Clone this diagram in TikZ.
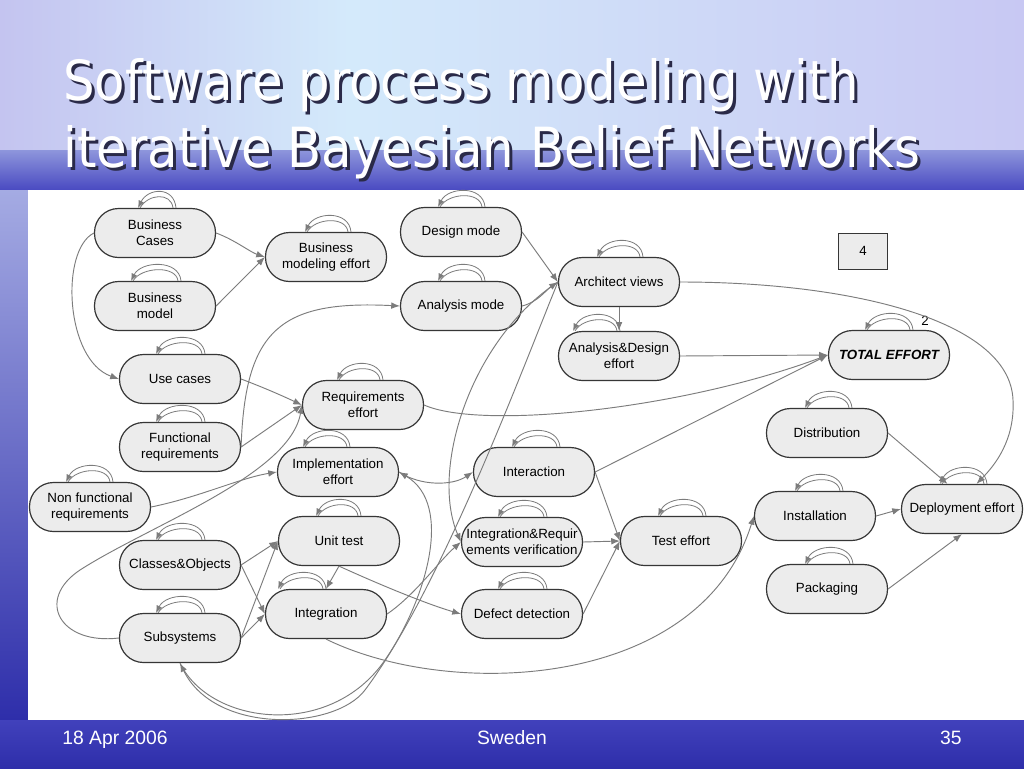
\documentclass[tikz,border=0pt]{standalone}
\usepackage{fontspec}
\setmainfont{Liberation Sans}
\newfontfamily\titlefont[FakeStretch=0.9]{DejaVu Sans}
\usepackage{tikz}
\usetikzlibrary{arrows.meta,calc,positioning}
\definecolor{nodefill}{HTML}{ECECEC}
\definecolor{nodeline}{HTML}{363636}
\definecolor{linkgray}{HTML}{7C7C7C}
\definecolor{skyleft}{HTML}{C4C4F0}
\definecolor{skymid}{HTML}{D4EAFB}
\definecolor{skyright}{HTML}{C8C8F3}
\definecolor{seatop}{HTML}{8E96DC}
\definecolor{seadeep}{HTML}{4646C0}
\definecolor{seadark}{HTML}{2E2EAA}
\definecolor{shadowink}{HTML}{2A2A48}
\newcommand{\selfloop}[3]{%
  \draw[selfarc] ($(#1.north)+(#3-3,0)$) .. controls +(-2,-16) and +(8,-14) .. ($(#1.north)+(#2+2,0)$);
  \draw[selfarc,-{Latex[length=5.5pt,width=4.5pt]}] ($(#1.north)+(#3,0)$) .. controls +(-2,-22) and +(10,-20) .. ($(#1.north)+(#2,0)$);
}

\begin{document}
\begin{tikzpicture}[x=0.75pt,y=-0.75pt,
    netnode/.style={draw=nodeline,fill=nodefill,line width=0.9pt,rounded corners=18pt,
      minimum width=90.75pt,minimum height=36.75pt,inner sep=0pt,align=center,
      font=\fontsize{10}{12}\selectfont},
    link/.style={draw=linkgray,line width=0.7pt,-{Latex[length=6.5pt,width=5pt]}},
    selfarc/.style={draw=linkgray,line width=0.6pt},
    titletext/.style={anchor=base west,inner sep=0pt,font=\titlefont\fontsize{41.5}{50}\selectfont},
    foottext/.style={text=white,inner sep=0pt,font=\fontsize{14.5}{17}\selectfont}]
        \useasboundingbox (0,0) rectangle (1024,768);

        % slide background
        \fill[left color=skyleft,right color=skymid] (0,0) rectangle (350,152);
        \fill[left color=skymid,right color=skyright] (350,0) rectangle (1024,152);
        \fill[top color=seatop,bottom color=seadeep] (0,150) rectangle (1024,192);
        \fill[top color=seatop!80!white,bottom color=seadark] (0,190) rectangle (1024,720);
        \fill[top color=seadeep!80!seadark,bottom color=seadark] (0,720) rectangle (1024,768);
        \fill[white] (28,190) rectangle (1024,720);

        \node[titletext,text=shadowink] at (66,103) {Software process modeling with};
        \node[titletext,text=white] (title1) at (63,100) {Software process modeling with};
        \node[titletext,text=shadowink] at (66,170) {iterative Bayesian Belief Networks};
        \node[titletext,text=white] (title2) at (63,167) {iterative Bayesian Belief Networks};

        \node[foottext,anchor=base west] (date) at (62,744) {18 Apr 2006};
        \node[foottext,anchor=base] (place) at (512,744) {Sweden};
        \node[foottext,anchor=base east] (page) at (962,744) {35};

        % network
        \node[netnode] (bcase) at (155,233) {Business\\Cases};
        \node[netnode] (bmodel) at (155,306) {Business\\model};
        \node[netnode] (bmeff) at (326,257) {Business\\modeling effort};
        \node[netnode] (design) at (461,232) {Design mode};
        \node[netnode] (anamode) at (461,306) {Analysis mode};
        \node[netnode] (arch) at (619,282) {Architect views};
        \node[netnode] (adeff) at (619,356) {Analysis\&Design\\effort};
        \node[draw=nodeline,fill=nodefill,line width=0.7pt,minimum width=36.75pt,minimum height=27pt,
            font=\fontsize{10}{12}\selectfont] (four) at (863,251) {4};
        \node[netnode,font=\fontsize{10}{12}\selectfont\bfseries\itshape] (total) at (889,355) {TOTAL EFFORT};
        \node[inner sep=0pt,font=\fontsize{10}{12}\selectfont] (two) at (925,321) {2};
        \node[netnode] (usec) at (180,379) {Use cases};
        \node[netnode] (reqeff) at (363,405) {Requirements\\effort};
        \node[netnode] (funreq) at (180,447) {Functional\\requirements};
        \node[netnode] (distr) at (827,433) {Distribution};
        \node[netnode] (impeff) at (338,472) {Implementation\\effort};
        \node[netnode] (interact) at (534,472) {Interaction};
        \node[netnode] (nonfun) at (90,507) {Non functional\\requirements};
        \node[netnode] (install) at (815,516) {Installation};
        \node[netnode] (deploy) at (962,509) {Deployment effort};
        \node[netnode] (classes) at (180,565) {Classes\&Objects};
        \node[netnode] (unittest) at (339,541) {Unit test};
        \node[netnode] (intreq) at (522,542) {Integration\&Requir\\ements verification};
        \node[netnode] (testeff) at (681,541) {Test effort};
        \node[netnode] (packag) at (827,589) {Packaging};
        \node[netnode] (subsys) at (180,638) {Subsystems};
        \node[netnode] (integr) at (326,614) {Integration};
        \node[netnode] (defect) at (522,614) {Defect detection};

        \draw[link] (bcase.east) .. controls (235,240) and (250,252) .. (bmeff.west);
        \draw[link] (bmodel.east) -- (bmeff.west);
        \draw[link] (bcase.west) .. controls (60,250) and (65,360) .. (usec.west);
        \draw[link] (usec.east) .. controls (265,388) and (285,397) .. (reqeff.west);
        \draw[link] (funreq.east) -- (reqeff.west);
        \draw[link] (funreq.east) .. controls (245,330) and (280,300) .. (anamode.west);
        \draw[link] (subsys.west) .. controls (60,645) and (35,600) .. (80,570)
            .. controls (150,525) and (290,475) .. (reqeff.west);
        \draw[link] (nonfun.east) .. controls (200,497) and (240,478) .. (impeff.west);
        \draw[link] (impeff.east) .. controls (420,486) and (452,486) .. (interact.west);
        \draw[link] (subsys.south) .. controls (210,725) and (330,740) .. (385,660)
            .. controls (425,602) and (455,505) .. (impeff.east);
        \draw[link] (arch.west) .. controls (520,375) and (440,590) .. (365,690)
            .. controls (335,730) and (215,735) .. (subsys.south);
        \draw[link] (arch.west) .. controls (470,340) and (430,470) .. (intreq.west);
        \draw[link] (integr.east) .. controls (415,595) and (440,560) .. (intreq.west);
        \draw[link] (unittest.south) -- (integr.north);
        \draw[link] (unittest.south) .. controls (365,578) and (420,602) .. (defect.west);
        \draw[link] (classes.east) -- (unittest.west);
        \draw[link] (classes.east) -- (integr.west);
        \draw[link] (subsys.east) -- (unittest.west);
        \draw[link] (subsys.east) -- (integr.west);
        \draw[link] (design.east) -- (arch.west);
        \draw[link] (anamode.east) .. controls (538,302) and (546,290) .. (arch.west);
        \draw[link] (arch.south) -- (adeff.north);
        \draw[link] (adeff.east) -- (total.west);
        \draw[link] (reqeff.east) .. controls (480,430) and (680,410) .. (total.west);
        \draw[link] (interact.east) -- (total.west);
        \draw[link] (interact.east) -- (testeff.west);
        \draw[link] (intreq.east) -- (testeff.west);
        \draw[link] (defect.east) -- (testeff.west);
        \draw[link] (integr.south) .. controls (450,700) and (700,690) .. (install.west);
        \draw[link] (arch.east) .. controls (850,282) and (1010,320) .. (1013,400)
            .. controls (1015,440) and (995,465) .. (deploy.60);
        \draw[link] (distr.east) -- (deploy.120);
        \draw[link] (install.east) -- (deploy.west);
        \draw[link] (packag.east) -- (deploy.south);

        % self loops
        \selfloop{bcase}{-17}{21}
        \selfloop{bmodel}{-24}{26}
        \selfloop{bmeff}{-21}{25}
        \selfloop{design}{-23}{24}
        \selfloop{anamode}{-23}{24}
        \selfloop{arch}{-22}{24}
        \selfloop{adeff}{-46}{1}
        \selfloop{total}{-24}{24}
        \selfloop{usec}{-24}{25}
        \selfloop{reqeff}{-26}{20}
        \selfloop{funreq}{-24}{25}
        \selfloop{distr}{-22}{25}
        \selfloop{impeff}{-35}{12}
        \selfloop{interact}{-22}{26}
        \selfloop{nonfun}{-24}{23}
        \selfloop{install}{-20}{28}
        \selfloop{deploy}{-22}{25}
        \selfloop{classes}{-24}{25}
        \selfloop{unittest}{-23}{22}
        \selfloop{intreq}{-24}{25}
        \selfloop{testeff}{-23}{25}
        \selfloop{packag}{-22}{26}
        \selfloop{subsys}{-24}{25}
        \selfloop{integr}{-48}{0}
        \selfloop{defect}{-24}{25}
\end{tikzpicture}
\end{document}
